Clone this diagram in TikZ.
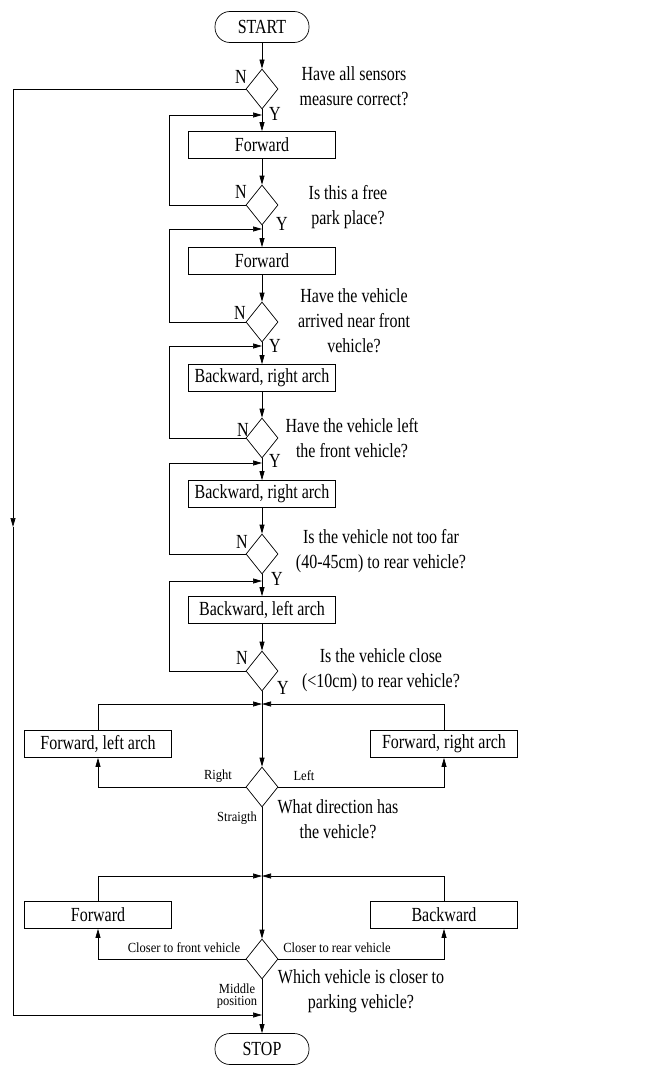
\documentclass[tikz,border=0pt]{standalone}
\usepackage{fontspec}
\setmainfont{Liberation Serif}[FakeStretch=0.8]
\newfontfamily\lblfont{Liberation Serif}[FakeStretch=0.9]
\usetikzlibrary{shapes.geometric,arrows.meta,positioning}

\tikzset{
  term/.style={draw, rectangle, rounded corners=15pt, minimum width=94pt, minimum height=31pt, inner sep=0pt},
  act/.style={draw, rectangle, minimum width=147pt, minimum height=27pt, inner sep=0pt},
  dec/.style={draw, diamond, minimum width=32pt, minimum height=40pt, inner sep=0pt},
  quest/.style={align=center, inner sep=0pt},
  lbl/.style={font=\lblfont\fontsize{13.9}{12}\selectfont, align=center, inner sep=0pt}
}

\begin{document}
\begin{tikzpicture}[%
            >={Triangle[length=9pt,width=5pt]},
            node distance=56pt,
            on grid,
            line width=0.7pt,
            font=\fontsize{20}{25}\selectfont
            ]
            \useasboundingbox (0pt,0pt) rectangle (670pt,-1065pt);

            \node[term] (start) at (262pt,-27pt) {START};
            \node[dec] (d1) [below=62pt of start] {};
            \node[act] (f1) [below=of d1] {Forward};
            \node[dec] (d2) [below=60pt of f1] {};
            \node[act] (f2) [below=of d2] {Forward};
            \node[dec] (d3) [below=61pt of f2] {};
            \node[act] (b1) [below=of d3] {Backward, right arch};
            \node[dec] (d4) [below=60pt of b1] {};
            \node[act] (b2) [below=of d4] {Backward, right arch};
            \node[dec] (d5) [below=60pt of b2] {};
            \node[act] (b3) [below=of d5] {Backward, left arch};
            \node[dec] (d6) [below=61pt of b3] {};
            \node[dec] (d7) [below=116pt of d6] {};
            \node[act] (fl) [above left=43pt and 164pt of d7] {Forward, left arch};
            \node[act] (fr) [above right=43pt and 182pt of d7] {Forward, right arch};
            \node[dec] (d8) [below=172pt of d7] {};
            \node[act] (fw) [above left=44pt and 164pt of d8] {Forward};
            \node[act] (bw) [above right=44pt and 182pt of d8] {Backward};
            \node[term] (stop) [below=90pt of d8] {STOP};

            % merge points on the main line
            \coordinate[below=26pt of d1] (j1);
            \coordinate[below=24pt of d2] (j2);
            \coordinate[below=24pt of d3] (j3);
            \coordinate[below=25pt of d4] (j4);
            \coordinate[below=27pt of d5] (j5);
            \coordinate[below=33pt of d6] (j6);
            \coordinate[below=89pt of d7] (j7);
            \coordinate[below=56pt of d8] (j8);
            \coordinate (lft) at (13pt,-527pt);

            % questions
            \node[quest, above right=3pt and 92pt of d1] {Have all sensors\\measure correct?};
            \node[quest, below right=2.5pt and 86pt of d2] {Is this a free\\park place?};
            \node[quest, above right=1pt and 92pt of d3] {Have the vehicle\\arrived near front\\vehicle?};
            \node[quest, right=90pt of d4] {Have the vehicle left\\the front vehicle?};
            \node[quest, above right=2.5pt and 119pt of d5] {Is the vehicle not too far\\(40-45cm) to rear vehicle?};
            \node[quest, above right=1pt and 119pt of d6] {Is the vehicle close\\(<10cm) to rear vehicle?};
            \node[quest, below right=32.5pt and 76pt of d7] {What direction has\\the vehicle?};
            \node[quest, below right=32.5pt and 99pt of d8] {Which vehicle is closer to\\parking vehicle?};

            % answers
            \node[above left=12pt and 21pt of d1] {N};
            \node[below right=25pt and 13pt of d1] {Y};
            \node[above left=13pt and 21pt of d2] {N};
            \node[below right=19pt and 20pt of d2] {Y};
            \node[above left=9pt and 22pt of d3] {N};
            \node[below right=24pt and 13pt of d3] {Y};
            \node[above left=8pt and 19pt of d4] {N};
            \node[below right=23pt and 13pt of d4] {Y};
            \node[above left=12pt and 20pt of d5] {N};
            \node[below right=25pt and 15pt of d5] {Y};
            \node[above left=13pt and 20pt of d6] {N};
            \node[below right=17pt and 21pt of d6] {Y};
            \node[lbl, above left=11pt and 44pt of d7] {Right};
            \node[lbl, above right=11pt and 42pt of d7] {Left};
            \node[lbl, below left=31pt and 25pt of d7] {Straigth};
            \node[lbl, above left=11pt and 78pt of d8] {Closer to front vehicle};
            \node[lbl, above right=11pt and 75pt of d8] {Closer to rear vehicle};
            \node[lbl, below left=37pt and 25pt of d8] {Middle\\position};

            % main line
            \path[->] (start) edge (d1);
            \path[->] (d1) edge (f1);
            \path[->] (f1) edge (d2);
            \path[->] (d2) edge (f2);
            \path[->] (f2) edge (d3);
            \path[->] (d3) edge (b1);
            \path[->] (b1) edge (d4);
            \path[->] (d4) edge (b2);
            \path[->] (b2) edge (d5);
            \path[->] (d5) edge (b3);
            \path[->] (b3) edge (d6);
            \path[->] (d6) edge (d7);
            \path[->] (d7) edge (d8);
            \path[->] (d8) edge (stop);

            % loops back
            \draw[->] (d2.west) -- ++(-76pt,0) |- (j1);
            \draw[->] (d3.west) -- ++(-76pt,0) |- (j2);
            \draw[->] (d4.west) -- ++(-76pt,0) |- (j3);
            \draw[->] (d5.west) -- ++(-76pt,0) |- (j4);
            \draw[->] (d6.west) -- ++(-76pt,0) |- (j5);
            \draw[->] (d1.west) -| (lft);
            \draw[->] (lft) |- (j8);

            % side branches
            \draw[->] (d7.west) -| (fl.south);
            \draw[->] (d7.east) -| (fr.south);
            \draw[->] (fl.north) |- (j6);
            \draw[->] (fr.north) |- (j6);
            \draw[->] (d8.west) -| (fw.south);
            \draw[->] (d8.east) -| (bw.south);
            \draw[->] (fw.north) |- (j7);
            \draw[->] (bw.north) |- (j7);
        \end{tikzpicture}
\end{document}
